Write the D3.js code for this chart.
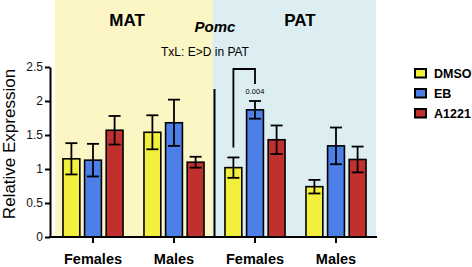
<!DOCTYPE html>
<html>
<head>
<meta charset="utf-8">
<script src="https://cdn.jsdelivr.net/npm/d3@7"></script>
<style>
  body { margin: 0; background: #fff; }
  svg { display: block; font-family: "Liberation Sans", Arial, sans-serif; }
</style>
</head>
<body>
<div id="chart"></div>
<script>
let width = 472;
let height = 267;

// data
let groups = ["MAT-F", "MAT-M", "PAT-F", "PAT-M"];
let groupLabels = ["Females", "Males", "Females", "Males"];
let series = ["DMSO", "EB", "A1221"];
let seriesColors = ["#f2ef3d", "#4d7fe8", "#c0302f"];
let dmso  = [1.15, 1.54, 1.02, 0.74];
let eb    = [1.13, 1.68, 1.87, 1.34];
let a1221 = [1.57, 1.10, 1.43, 1.14];
let dmsoErr  = [0.23, 0.25, 0.15, 0.10];
let ebErr    = [0.24, 0.34, 0.13, 0.27];
let a1221Err = [0.21, 0.08, 0.21, 0.19];
let yTicks = [0, 0.5, 1, 1.5, 2, 2.5];
let yTickLabels = ["0", "0.5", "1", "1.5", "2", "2.5"];

let values = [dmso, eb, a1221];
let errs = [dmsoErr, ebErr, a1221Err];

let svg = d3.select("#chart").append("svg")
    .attr("width", width)
    .attr("height", height)
    .attr("viewBox", `0 0 ${width} ${height}`);

let y = d3.scaleLinear().domain([0, 2.5]).range([237, 67]);
let x0 = d3.scaleBand().domain(groups).range([52.5, 376.5])
    .paddingInner(0.2).paddingOuter(0.1);
let x1 = d3.scaleBand().domain(series).range([0, x0.bandwidth()])
    .paddingInner(0.22).paddingOuter(0.11);

// MAT / PAT shaded panels
let split = (x0("MAT-M") + x0.bandwidth() + x0("PAT-F")) / 2;
svg.append("rect").attr("x", 55).attr("y", 0)
    .attr("width", split - 2 - 55).attr("height", y(0))
    .attr("fill", "#fcf6c4");
svg.append("rect").attr("x", split - 2).attr("y", 0)
    .attr("width", 376 - split + 2).attr("height", y(0))
    .attr("fill", "#dceef1");

// divider line
svg.append("line")
    .attr("x1", split).attr("x2", split)
    .attr("y1", 89).attr("y2", y(0))
    .attr("stroke", "black").attr("stroke-width", 2);

// rows for the bars
let rows = [];
groups.forEach((g, i) => {
    series.forEach((s, j) => {
        rows.push({group: g, s: s, v: values[j][i], e: errs[j][i], color: seriesColors[j]});
    });
});

let bars = svg.append("g").selectAll("g.bar")
    .data(rows).enter().append("g")
    .attr("class", "bar")
    .attr("transform", d => `translate(${x0(d.group) + x1(d.s)},0)`);

bars.append("rect")
    .attr("x", 0)
    .attr("y", d => y(d.v))
    .attr("width", x1.bandwidth())
    .attr("height", d => y(0) - y(d.v))
    .attr("fill", d => d.color)
    .attr("stroke", "black")
    .attr("stroke-width", 1.6);

let cx = x1.bandwidth() / 2;
bars.append("line")
    .attr("x1", cx).attr("x2", cx)
    .attr("y1", d => y(d.v + d.e)).attr("y2", d => y(d.v - d.e))
    .attr("stroke", "black").attr("stroke-width", 1.8);
bars.append("line")
    .attr("x1", cx - 6).attr("x2", cx + 6)
    .attr("y1", d => y(d.v + d.e)).attr("y2", d => y(d.v + d.e))
    .attr("stroke", "black").attr("stroke-width", 1.8);
bars.append("line")
    .attr("x1", cx - 6).attr("x2", cx + 6)
    .attr("y1", d => y(d.v - d.e)).attr("y2", d => y(d.v - d.e))
    .attr("stroke", "black").attr("stroke-width", 1.8);

// y axis
let yAxis = svg.append("g")
    .attr("transform", "translate(50,0)")
    .call(d3.axisLeft(y).tickValues(yTicks).tickFormat((d, i) => yTickLabels[i])
        .tickSize(5).tickSizeOuter(0));
yAxis.select(".domain").attr("stroke-width", 2);
yAxis.selectAll(".tick line").attr("stroke-width", 2);
yAxis.selectAll(".tick text")
    .attr("font-size", 12).attr("fill", "#111")
    .attr("font-family", "Liberation Sans, Arial, sans-serif")
    .attr("x", -7);

// x axis
let xAxis = svg.append("g")
    .attr("transform", `translate(0,${y(0)})`)
    .call(d3.axisBottom(x0).tickSize(6).tickFormat(""));
xAxis.select(".domain").remove();
xAxis.selectAll(".tick line").attr("stroke-width", 2);
svg.append("line")
    .attr("x1", 49).attr("x2", 377)
    .attr("y1", y(0)).attr("y2", y(0))
    .attr("stroke", "black").attr("stroke-width", 2.2);

svg.append("g").selectAll("text")
    .data(groups).enter().append("text")
    .attr("x", d => x0(d) + x0.bandwidth() / 2)
    .attr("y", 263.5)
    .attr("text-anchor", "middle")
    .attr("font-size", 14.5).attr("font-weight", "bold")
    .text((d, i) => groupLabels[i]);

// y title
svg.append("text")
    .attr("transform", `translate(15,144) rotate(-90)`)
    .attr("text-anchor", "middle")
    .attr("font-size", 17)
    .text("Relative Expression");

// panel titles
svg.append("text").attr("x", 127).attr("y", 26)
    .attr("text-anchor", "middle").attr("font-size", 17).attr("font-weight", "bold")
    .text("MAT");
svg.append("text").attr("x", 300).attr("y", 26)
    .attr("text-anchor", "middle").attr("font-size", 17).attr("font-weight", "bold")
    .text("PAT");
svg.append("text").attr("x", 215).attr("y", 32)
    .attr("text-anchor", "middle").attr("font-size", 15)
    .attr("font-weight", "bold").attr("font-style", "italic")
    .text("Pomc");
svg.append("text").attr("x", 205).attr("y", 56)
    .attr("text-anchor", "middle").attr("font-size", 12)
    .text("TxL: E>D in PAT");

// significance bracket (PAT females, DMSO vs EB)
let bx1 = x0("PAT-F") + x1("DMSO") + cx;
let bx2 = x0("PAT-F") + x1("EB") + cx;
let by = 69;
svg.append("path")
    .attr("d", `M${bx1},${y(dmso[2] + dmsoErr[2]) - 10}V${by}H${bx2}V${by + 15}`)
    .attr("fill", "none").attr("stroke", "black").attr("stroke-width", 1.8);
svg.append("text").attr("x", bx2).attr("y", 94)
    .attr("text-anchor", "middle").attr("font-size", 7.5)
    .text("0.004");

// legend
let legend = svg.append("g").selectAll("g")
    .data(series).enter().append("g")
    .attr("transform", (d, i) => `translate(415,${69 + i * 20})`);
legend.append("rect")
    .attr("width", 11).attr("height", 8.5)
    .attr("fill", (d, i) => seriesColors[i])
    .attr("stroke", "black").attr("stroke-width", 2);
legend.append("text")
    .attr("x", 19).attr("y", 9)
    .attr("font-size", 12.5).attr("font-weight", "bold")
    .text(d => d);
</script>
</body>
</html>
